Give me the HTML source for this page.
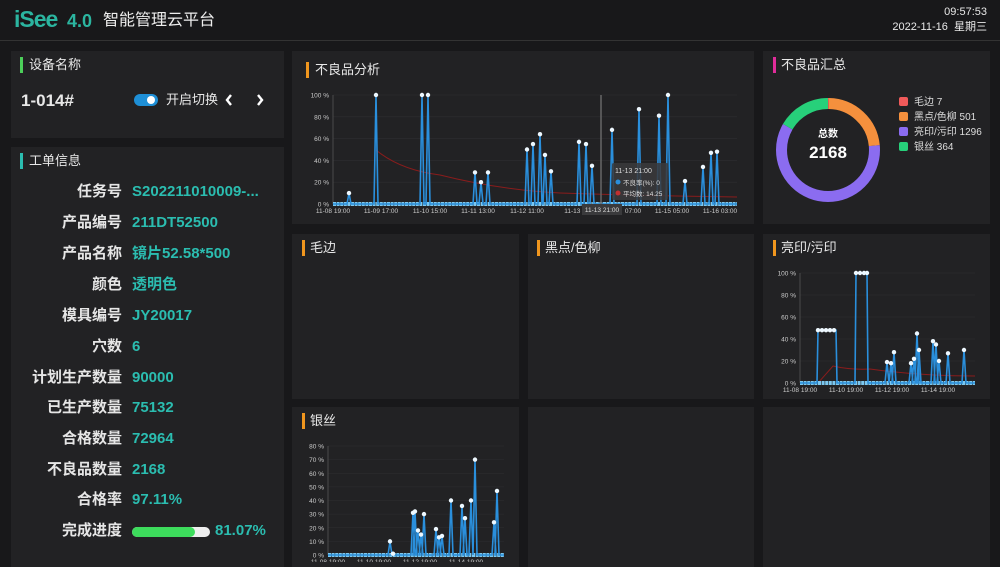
<!DOCTYPE html>
<html><head><meta charset="utf-8"><style>
*{margin:0;padding:0;box-sizing:border-box}
body{width:1000px;height:562px;background:#18181a;overflow:hidden;position:relative;font-family:"Liberation Sans","Noto Sans CJK SC",sans-serif;color:#e8e8e8}
.p{position:absolute;background:#222224}
.t{position:absolute;font-size:13px;line-height:16px;color:#e8e8e8;white-space:nowrap}
.bar{position:absolute;width:3px;height:16px}
.lab{position:absolute;right:878px;font-size:15px;line-height:20px;font-weight:bold;color:#e6e6e6;white-space:nowrap;text-align:right}
.val{position:absolute;left:132px;font-size:15px;line-height:20px;font-weight:bold;color:#2bbdb0;white-space:nowrap}
</style></head><body>
<div style="position:absolute;left:0;top:40px;width:1000px;height:1px;background:#333"></div>
<div class="t" style="left:14px;top:6px;font-size:23px;line-height:26px;color:#2bb5a0;font-weight:bold;letter-spacing:-1px">iSee</div>
<div class="t" style="left:67px;top:10px;font-size:18px;line-height:22px;color:#2bb5a0;font-weight:bold">4.0</div>
<div class="t" style="left:103px;top:11px;font-size:16px;line-height:20px;color:#eee">智能管理云平台</div>
<div class="t" style="right:13px;top:4px;font-size:11px">09:57:53</div>
<div class="t" style="right:13px;top:19px;font-size:11px">2022-11-16 &nbsp;星期三</div>

<div class="p" style="left:11px;top:51px;width:273px;height:87px"></div>
<div class="bar" style="left:20px;top:57px;background:#4ccf5a"></div>
<div class="t" style="left:29px;top:57px">设备名称</div>
<div class="t" style="left:21px;top:91px;font-size:17px;line-height:20px;font-weight:bold">1-014#</div>
<div style="position:absolute;left:134px;top:94px;width:24px;height:12px;border-radius:6px;background:#1e8fd6"></div>
<div style="position:absolute;left:147px;top:96px;width:8px;height:8px;border-radius:4px;background:#fff"></div>
<div class="t" style="left:166px;top:92px">开启切换</div>
<svg style="position:absolute;left:224px;top:93px" width="44" height="14"><path d="M7 2 L3 7 L7 12 M34 2 L38 7 L34 12" fill="none" stroke="#fff" stroke-width="2.4"/></svg>

<div class="p" style="left:11px;top:147px;width:273px;height:420px"></div>
<div class="bar" style="left:20px;top:153px;background:#2bbdb0"></div>
<div class="t" style="left:29px;top:153px">工单信息</div>
<div class="lab" style="top:182px">任务号</div><div class="val" style="top:182px">S202211010009-...</div>
<div class="lab" style="top:213px">产品编号</div><div class="val" style="top:213px">211DT52500</div>
<div class="lab" style="top:244px">产品名称</div><div class="val" style="top:244px">镜片52.58*500</div>
<div class="lab" style="top:275px">颜色</div><div class="val" style="top:275px">透明色</div>
<div class="lab" style="top:306px">模具编号</div><div class="val" style="top:306px">JY20017</div>
<div class="lab" style="top:337px">穴数</div><div class="val" style="top:337px">6</div>
<div class="lab" style="top:368px">计划生产数量</div><div class="val" style="top:368px">90000</div>
<div class="lab" style="top:398px">已生产数量</div><div class="val" style="top:398px">75132</div>
<div class="lab" style="top:429px">合格数量</div><div class="val" style="top:429px">72964</div>
<div class="lab" style="top:460px">不良品数量</div><div class="val" style="top:460px">2168</div>
<div class="lab" style="top:490px">合格率</div><div class="val" style="top:490px">97.11%</div>
<div class="lab" style="top:521px">完成进度</div>
<div style="position:absolute;left:132px;top:527px;width:78px;height:10px;border-radius:5px;background:#eee"></div>
<div style="position:absolute;left:132px;top:527px;width:63px;height:10px;border-radius:5px;background:#3ddc5c"></div>
<div class="val" style="left:215px;top:521px">81.07%</div>

<div class="p" style="left:292px;top:51px;width:462px;height:173px"></div>
<div class="bar" style="left:306px;top:62px;background:#f0961e"></div>
<div class="t" style="left:315px;top:62px">不良品分析</div>
<div class="p" style="left:763px;top:51px;width:227px;height:173px"></div>
<div class="bar" style="left:773px;top:57px;background:#e02c9a"></div>
<div class="t" style="left:781px;top:57px">不良品汇总</div>

<div class="p" style="left:292px;top:234px;width:227px;height:165px"></div>
<div class="bar" style="left:302px;top:240px;background:#f0961e"></div>
<div class="t" style="left:310px;top:240px">毛边</div>
<div class="p" style="left:528px;top:234px;width:226px;height:165px"></div>
<div class="bar" style="left:537px;top:240px;background:#f0961e"></div>
<div class="t" style="left:545px;top:240px">黑点/色柳</div>
<div class="p" style="left:763px;top:234px;width:227px;height:165px"></div>
<div class="bar" style="left:773px;top:240px;background:#f0961e"></div>
<div class="t" style="left:781px;top:240px">亮印/污印</div>

<div class="p" style="left:292px;top:407px;width:227px;height:160px"></div>
<div class="bar" style="left:302px;top:413px;background:#f0961e"></div>
<div class="t" style="left:310px;top:413px">银丝</div>
<div class="p" style="left:528px;top:407px;width:226px;height:160px"></div>
<div class="p" style="left:763px;top:407px;width:227px;height:160px"></div>

<svg id="s" width="1000" height="562" style="position:absolute;left:0;top:0" font-family="Liberation Sans, Noto Sans CJK SC, sans-serif">
<text x="828" y="137" fill="#fff" font-size="10" font-weight="bold" text-anchor="middle">总数</text>
<text x="828" y="158" fill="#fff" font-size="17" font-weight="bold" text-anchor="middle">2168</text>
<rect x="899" y="97" width="9" height="9" rx="2" fill="#f05a5a"/><text x="914" y="105" fill="#ddd" font-size="10">毛边  7</text>
<rect x="899" y="112" width="9" height="9" rx="2" fill="#f5903d"/><text x="914" y="120" fill="#ddd" font-size="10">黑点/色柳  501</text>
<rect x="899" y="127" width="9" height="9" rx="2" fill="#8b6cf0"/><text x="914" y="135" fill="#ddd" font-size="10">亮印/污印  1296</text>
<rect x="899" y="142" width="9" height="9" rx="2" fill="#27d07a"/><text x="914" y="150" fill="#ddd" font-size="10">银丝  364</text>
</svg>
<script>
var s=document.getElementById('s'),NS='http://www.w3.org/2000/svg';
function el(t,a,txt){var e=document.createElementNS(NS,t);for(var k in a)e.setAttribute(k,a[k]);if(txt)e.textContent=txt;s.appendChild(e);return e}
var C=2*Math.PI*46.5,tot=2168,segs=[[7,'#f05a5a'],[501,'#f5903d'],[1296,'#8b6cf0'],[364,'#27d07a']],acc=0;
segs.forEach(function(g){var L=g[0]/tot*C;el('circle',{cx:828,cy:150,r:46.5,fill:'none',stroke:g[1],'stroke-width':11,'stroke-dasharray':L+' '+C,'stroke-dashoffset':-acc,transform:'rotate(-90 828 150)'});acc+=L;});
function chart(o){
  var y0=o.y0,y1=o.y1,ax=o.ax,x2=o.x2;
  o.ticks.forEach(function(v,i){var y=y0-(y0-y1)*v/o.max;
    el('line',{x1:ax,x2:x2,y1:y,y2:y,stroke:'#2e2e30','stroke-width':0.6});
    el('text',{x:ax-4,y:y+2.5,fill:'#ccc','font-size':6.5,'text-anchor':'end'},v+' %');});
  el('line',{x1:ax,x2:ax,y1:y1,y2:y0,stroke:'#555','stroke-width':0.8});
  if(o.avg)el('path',{d:o.avg,fill:'none',stroke:'#8a1c1c','stroke-width':1});
  var d='M'+ax+' '+y0,dots=[];
  if(o.path){d=o.path(function(v){return y0-(y0-y1)*v/o.max});}
  else{o.sp.forEach(function(p){var x=p[0],y=y0-(y0-y1)*p[1]/o.max;d+=' L'+(x-2)+' '+y0+' L'+x+' '+y+' L'+(x+2)+' '+y0;dots.push([x,y]);});d+=' L'+x2+' '+y0;}
  el('line',{x1:ax,x2:x2,y1:y0,y2:y0,stroke:'#7cc8f0','stroke-width':4,'stroke-dasharray':'3 0.6'});
  el('path',{d:d,fill:'none',stroke:'#2a8fdc','stroke-width':1.6});
  (o.dots||dots).forEach(function(p){el('circle',{cx:p[0],cy:p[1],r:2.2,fill:'#eef8ff'})});
  o.xl.forEach(function(l){el('text',{x:l[0],y:o.xly,fill:'#ccc','font-size':6.5,'text-anchor':'middle'},l[1])});
}
chart({ax:333,x2:737,y0:204,y1:95,max:100,ticks:[0,20,40,60,80,100],
 sp:[[349,10],[376,100],[422,100],[428,100],[475,29],[481,20],[488,29],[527,50],[533,55],[540,64],[545,45],[551,30],[579,57],[586,55],[592,35],[612,68],[639,87],[659,81],[668,100],[685,21],[703,34],[711,47],[717,48]],
 avg:'M376 150 Q400 170 440 175 Q500 190 560 193 Q650 196 737 197',
 xly:213,xl:[[333,'11-08 19:00'],[381,'11-09 17:00'],[430,'11-10 15:00'],[478,'11-11 13:00'],[527,'11-12 11:00'],[575,'11-13 0'],[672,'11-15 05:00'],[720,'11-16 03:00'],[633,'07:00']]});
el('line',{x1:601,x2:601,y1:95,y2:204,stroke:'#666','stroke-width':1.5});
el('rect',{x:612,y:163,width:56,height:37,fill:'#3a3a3c',opacity:0.85,rx:2});
el('text',{x:615,y:173,fill:'#ddd','font-size':7},'11-13 21:00');
el('circle',{cx:618,cy:182,r:2.5,fill:'#2a8fdc'});el('text',{x:623,y:185,fill:'#ddd','font-size':6.5},'不良率(%): 0');
el('circle',{cx:618,cy:193,r:2.5,fill:'#c03030'});el('text',{x:623,y:196,fill:'#ddd','font-size':6.5},'平均数: 14.25');
el('rect',{x:582,y:204,width:40,height:11,fill:'#3a3a3c'});
el('text',{x:602,y:212,fill:'#ddd','font-size':6.5,'text-anchor':'middle'},'11-13 21:00');
var Y=function(v){return 383-110*v/100};
chart({ax:800,x2:975,y0:383,y1:273,max:100,ticks:[0,20,40,60,80,100],
 path:function(f){var d='M800 383 L817 383 L818 '+f(48)+' L836 '+f(48)+' L837 383 L855 383 L856 '+f(100)+' L867 '+f(100)+' L868 383';
  [[887,19],[891,18],[894,28],[911,18],[914,22],[917,45],[919,30],[933,38],[936,35],[939,20],[948,27],[964,30]].forEach(function(p){d+=' L'+(p[0]-2)+' 383 L'+p[0]+' '+f(p[1])+' L'+(p[0]+2)+' 383'});return d+' L975 383';},
 dots:[[818,Y(48)],[822,Y(48)],[826,Y(48)],[830,Y(48)],[834,Y(48)],[856,Y(100)],[860,Y(100)],[864,Y(100)],[867,Y(100)],[887,Y(19)],[891,Y(18)],[894,Y(28)],[911,Y(18)],[914,Y(22)],[917,Y(45)],[919,Y(30)],[933,Y(38)],[936,Y(35)],[939,Y(20)],[948,Y(27)],[964,Y(30)]],
 avg:'M818 383 L833 366 Q850 370 870 369 Q920 376 975 376',
 xly:392,xl:[[800,'11-08 19:00'],[846,'11-10 19:00'],[892,'11-12 19:00'],[938,'11-14 19:00']]});
chart({ax:328,x2:504,y0:555,y1:446,max:80,ticks:[0,10,20,30,40,50,60,70,80],
 sp:[[390,10],[393,1],[413,31],[415,32],[418,18],[421,15],[424,30],[436,19],[439,13],[442,14],[451,40],[462,36],[465,27],[471,40],[475,70],[494,24],[497,47]],
 xly:564,xl:[[328,'11-08 19:00'],[374,'11-10 19:00'],[420,'11-12 19:00'],[466,'11-14 19:00']]});
</script>
</body></html>
